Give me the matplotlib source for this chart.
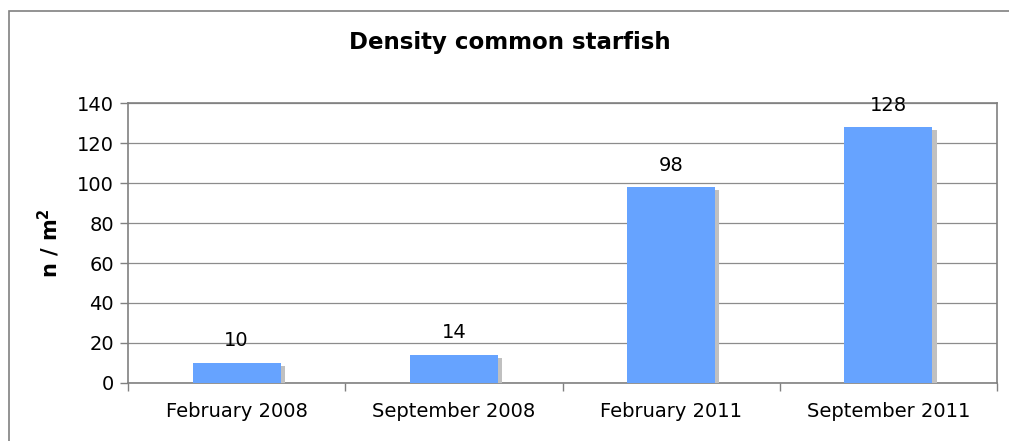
import numpy as np
import matplotlib.pyplot as plt
import matplotlib.patheffects as pe
from matplotlib.patches import Rectangle

# data
periods = ['February 2008', 'September 2008', 'February 2011', 'September 2011']
density = [10, 14, 98, 128]

W, H = 1009, 441
fig = plt.figure(figsize=(W / 100, H / 100), dpi=100)
plt.rcParams['font.family'] = ['DejaVu Sans']

# outer chart frame (open on the right and bottom, as in the original)
fig.patches.append(Rectangle((9 / W, -0.1), 1.2, 1 + 0.1 - 11 / H,
                             transform=fig.transFigure, fill=False,
                             edgecolor='#808080', linewidth=1.2))

ax = fig.add_axes([128 / W, 1 - 383 / H, (997 - 128) / W, (383 - 103) / H])

x = np.arange(len(periods))
bars = ax.bar(x, density, width=0.405, color='#66A3FF', zorder=3)
for b in bars:
    # grey drop shadow to the lower right
    b.set_path_effects([pe.SimplePatchShadow(offset=(3, -2.5), shadow_rgbFace='#c0c0c0', alpha=1.0),
                        pe.Normal()])

for xi, v in zip(x, density):
    ax.annotate(str(v), (xi, v), xytext=(0, 9), textcoords='offset points',
                ha='center', va='bottom', fontsize=14, color='black')

ax.set_xlim(-0.5, len(periods) - 0.5)
ax.set_ylim(0, 140)
ax.set_yticks(np.arange(0, 141, 20))
ax.yaxis.grid(True, color='#8c8c8c', linewidth=0.9, zorder=0)
ax.set_axisbelow(True)

# category labels between boundary ticks
ax.set_xticks(np.arange(-0.5, len(periods), 1.0))
ax.set_xticklabels([])
ax.set_xticks(x, minor=True)
ax.set_xticklabels(periods, minor=True, fontsize=14)
ax.tick_params(axis='x', which='minor', length=0, pad=14)
ax.tick_params(axis='x', which='major', length=6, color='#808080', width=1)
ax.tick_params(axis='y', length=6, color='#808080', width=1, labelsize=14, pad=4)

for s in ax.spines.values():
    s.set_color('#808080')
    s.set_linewidth(1.2)

ax.set_ylabel(r'n / m$^\mathbf{2}$', fontsize=15, fontweight='bold', labelpad=11)
fig.text(0.505, 1 - 42 / H, 'Density common starfish', ha='center', va='center',
         fontsize=16.5, fontweight='bold')

fig.savefig('out.png', dpi=100)
